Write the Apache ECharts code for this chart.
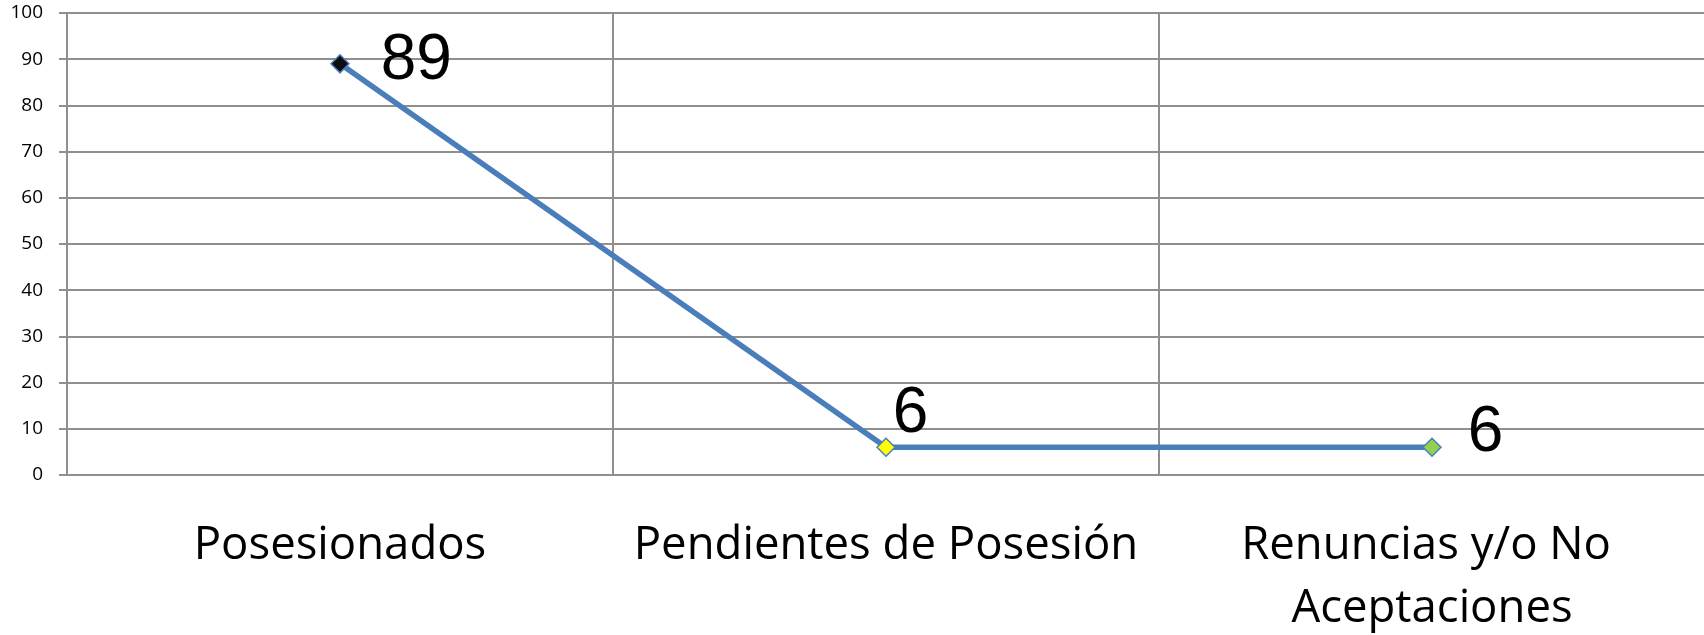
<!DOCTYPE html>
<html>
<head>
<meta charset="utf-8">
<script src="https://cdn.jsdelivr.net/npm/echarts@6/dist/echarts.min.js"></script>
<style>
html,body{margin:0;padding:0;background:#fff;}
#chart{width:1704px;height:635px;}
</style>
</head>
<body>
<div id="chart"></div>
<script>
const categories = ["Posesionados", "Pendientes de Posesión", "Renuncias y/o No Aceptaciones"];
const values = [89, 6, 6];
const yTicks = [0, 10, 20, 30, 40, 50, 60, 70, 80, 90, 100];

// styling per point (not data)
const markerColors = ["#0d0d0d", "#ffff00", "#92d050"];
const labelOffsets = [[26, -2], [-8, -33], [21, -14]];

const gridColor = "#8f8f8f";

const chart = echarts.init(document.getElementById('chart'), null, {renderer: 'canvas'});
chart.setOption({
  animation: false,
  backgroundColor: '#ffffff',
  grid: {left: 67, top: 13, bottom: 160, width: 1638, containLabel: false, outerBoundsMode: 'none'},
  xAxis: {
    type: 'category',
    data: categories,
    boundaryGap: true,
    axisLine: {show: true, lineStyle: {color: gridColor, width: 2}},
    axisTick: {show: false},
    splitLine: {show: true, lineStyle: {color: gridColor, width: 2}},
    axisLabel: {
      interval: 0,
      margin: 40,
      color: '#000',
      fontFamily: 'Open Sans',
      fontSize: 45.5,
      lineHeight: 63,
      width: 540,
      overflow: 'break',
      align: 'center'
    }
  },
  yAxis: {
    type: 'value',
    min: yTicks[0],
    max: yTicks[yTicks.length - 1],
    interval: yTicks[1] - yTicks[0],
    axisLine: {show: true, lineStyle: {color: gridColor, width: 2}},
    axisTick: {show: true, length: 8, lineStyle: {color: gridColor, width: 2}},
    splitLine: {show: true, lineStyle: {color: gridColor, width: 2}},
    axisLabel: {
      margin: 24,
      color: '#000',
      fontFamily: 'Open Sans',
      fontSize: 19
    }
  },
  series: [{
    type: 'line',
    data: values.map((v, i) => ({
      value: v,
      itemStyle: {color: markerColors[i], borderColor: '#4a7ebb', borderWidth: 1.5},
      label: {offset: labelOffsets[i]}
    })),
    symbol: 'diamond',
    symbolSize: 18,
    lineStyle: {color: '#4a7ebb', width: 5.5},
    label: {
      show: true,
      position: 'right',
      distance: 5,
      color: '#000',
      fontFamily: 'Liberation Sans',
      fontSize: 64
    },
    z: 5
  }]
});
</script>
</body>
</html>
